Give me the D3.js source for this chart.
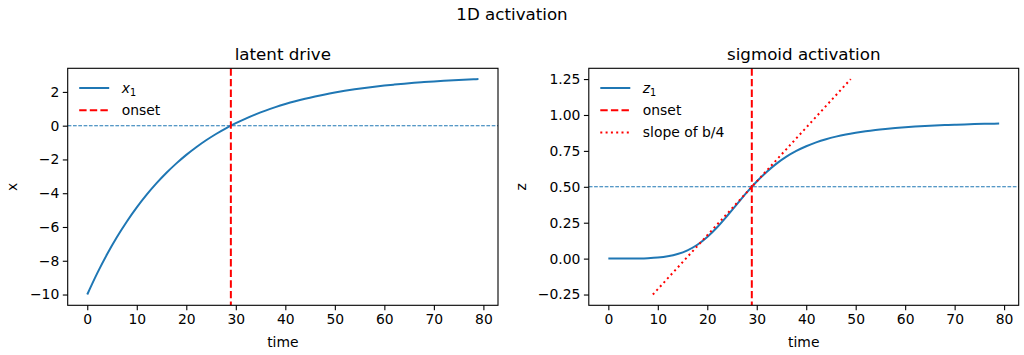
<!DOCTYPE html>
<html><head><meta charset="utf-8">
<script src="https://cdn.jsdelivr.net/npm/d3@7"></script>
<style>body{margin:0;background:#fff}svg{display:block;font-family:"DejaVu Sans",sans-serif}</style>
</head><body><svg id="c" width="1024" height="355"></svg>
<script>
const time = [0,2,4,6,8,10,12,14,16,18,20,22,24,26,28,30,32,34,36,38,40,42,44,46,48,50,52,54,56,58,60,62,64,66,68,70,72,74,76,78,79];
const xDrive = [-10,-8.75,-7.62,-6.599,-5.676,-4.841,-4.087,-3.406,-2.79,-2.233,-1.73,-1.275,-0.864,-0.492,-0.156,0.147,0.421,0.669,0.894,1.096,1.279,1.445,1.594,1.729,1.852,1.962,2.062,2.152,2.234,2.307,2.374,2.434,2.489,2.538,2.582,2.622,2.659,2.691,2.721,2.748,2.76];
const zAct = [0,0.0002,0.0005,0.0014,0.0034,0.0078,0.0165,0.0321,0.0579,0.0968,0.1506,0.2184,0.2966,0.3794,0.4611,0.5367,0.6037,0.6613,0.7097,0.7495,0.7823,0.8092,0.8312,0.8493,0.8644,0.8767,0.8872,0.8959,0.9032,0.9095,0.9149,0.9194,0.9234,0.9268,0.9297,0.9322,0.9346,0.9366,0.9383,0.9398,0.9405];
const onset = 29;
const slopeT = [9,49];
const slopeZ = [-0.25,1.25];
const xTicks = [0,10,20,30,40,50,60,70,80];
const leftYTicks = [-10,-8,-6,-4,-2,0,2];
const rightYTicks = [-0.25,0,0.25,0.5,0.75,1,1.25];

const svg = d3.select("#c");
const BLUE = "#1f77b4", RED = "#ff0000";
const FS = 13.9;

svg.append("text").attr("x",512).attr("y",20).attr("text-anchor","middle")
  .attr("font-size",16.7).text("1D activation");

function panel(o){
  const g = svg.append("g");
  const x = d3.scaleLinear().domain([-3.95,82.95]).range([o.x0,o.x1]);
  const y = d3.scaleLinear().domain(o.ydom).range([o.y1,o.y0]);
  // title
  g.append("text").attr("x",(o.x0+o.x1)/2).attr("y",60).attr("text-anchor","middle")
    .attr("font-size",16.7).text(o.title);
  // axes
  const ax = g.append("g").attr("transform",`translate(0,${o.y1})`)
    .call(d3.axisBottom(x).tickValues(xTicks).tickSize(4.9).tickPadding(3.5).tickFormat(d3.format("d")));
  const ay = g.append("g").attr("transform",`translate(${o.x0},0)`)
    .call(d3.axisLeft(y).tickValues(o.yticks).tickSize(4.9).tickPadding(3.5).tickFormat(o.yfmt));
  [ax,ay].forEach(a=>{
    a.select(".domain").remove();
    a.selectAll("text").attr("font-size",FS).attr("font-family","DejaVu Sans").attr("fill","#000");
    a.selectAll("line").attr("stroke","#000").attr("stroke-width",1.1);
  });
  g.append("text").attr("x",(o.x0+o.x1)/2).attr("y",346.5).attr("text-anchor","middle")
    .attr("font-size",FS).text("time");
  g.append("text").attr("transform",`translate(${o.ylx},${(o.y0+o.y1)/2}) rotate(-90)`)
    .attr("text-anchor","middle").attr("dy","0.35em").attr("font-size",FS).text(o.ylabel);
  // clip
  const cid = "clip"+o.id;
  svg.append("clipPath").attr("id",cid).append("rect")
    .attr("x",o.x0).attr("y",o.y0).attr("width",o.x1-o.x0).attr("height",o.y1-o.y0);
  const pg = g.append("g").attr("clip-path",`url(#${cid})`);
  // horizontal reference
  pg.append("line").attr("x1",o.x0).attr("x2",o.x1).attr("y1",y(o.href)).attr("y2",y(o.href))
    .attr("stroke",BLUE).attr("stroke-width",1.1).attr("stroke-dasharray","3.7,1.6");
  // curve
  const line = d3.line().x((d,i)=>x(time[i])).y(d=>y(d)).curve(d3.curveMonotoneX);
  pg.append("path").attr("d",line(o.vals)).attr("fill","none").attr("stroke",BLUE).attr("stroke-width",2);
  // onset
  pg.append("line").attr("x1",x(onset)).attr("x2",x(onset)).attr("y1",o.y0).attr("y2",o.y1)
    .attr("stroke",RED).attr("stroke-width",2).attr("stroke-dasharray","7.4,3.2");
  if(o.slope){
    pg.append("line").attr("x1",x(slopeT[0])).attr("x2",x(slopeT[1]))
      .attr("y1",y(slopeZ[0])).attr("y2",y(slopeZ[1]))
      .attr("stroke",RED).attr("stroke-width",2).attr("stroke-dasharray","2,3.3");
  }
  // frame
  g.append("rect").attr("x",o.x0).attr("y",o.y0).attr("width",o.x1-o.x0).attr("height",o.y1-o.y0)
    .attr("fill","none").attr("stroke","#000").attr("stroke-width",1.1);
  // legend
  const lx0 = o.x0+11.5, lx1 = o.x0+41.5, tx = o.x0+54;
  o.legend.forEach((it,i)=>{
    const ly = 88+i*22.2;
    g.append("line").attr("x1",lx0).attr("x2",lx1).attr("y1",ly).attr("y2",ly)
      .attr("stroke",it.c).attr("stroke-width",2).attr("stroke-dasharray",it.dash||null);
    const t = g.append("text").attr("x",tx).attr("y",ly).attr("dy","0.35em").attr("font-size",FS);
    if(it.sub){
      t.append("tspan").attr("font-style","italic").text(it.label);
      t.append("tspan").attr("font-size",FS*0.7).attr("dy","0.3em").text(it.sub);
    } else t.text(it.label);
  });
}

panel({id:"L",x0:67.7,x1:498,y0:68.3,y1:305.3,ydom:[-10.638,3.398],yticks:leftYTicks,
  yfmt:d3.format("d"),title:"latent drive",ylabel:"x",ylx:12,href:0,vals:xDrive,slope:false,
  legend:[{label:"x",sub:"1",c:BLUE},{label:"onset",c:RED,dash:"7.4,3.2"}]});
panel({id:"R",x0:588.8,x1:1018.7,y0:68.3,y1:305.3,ydom:[-0.325,1.325],yticks:rightYTicks,
  yfmt:d3.format(".2f"),title:"sigmoid activation",ylabel:"z",ylx:521,href:0.5,vals:zAct,slope:true,
  legend:[{label:"z",sub:"1",c:BLUE},{label:"onset",c:RED,dash:"7.4,3.2"},{label:"slope of b/4",c:RED,dash:"2,3.3"}]});
</script></body></html>
